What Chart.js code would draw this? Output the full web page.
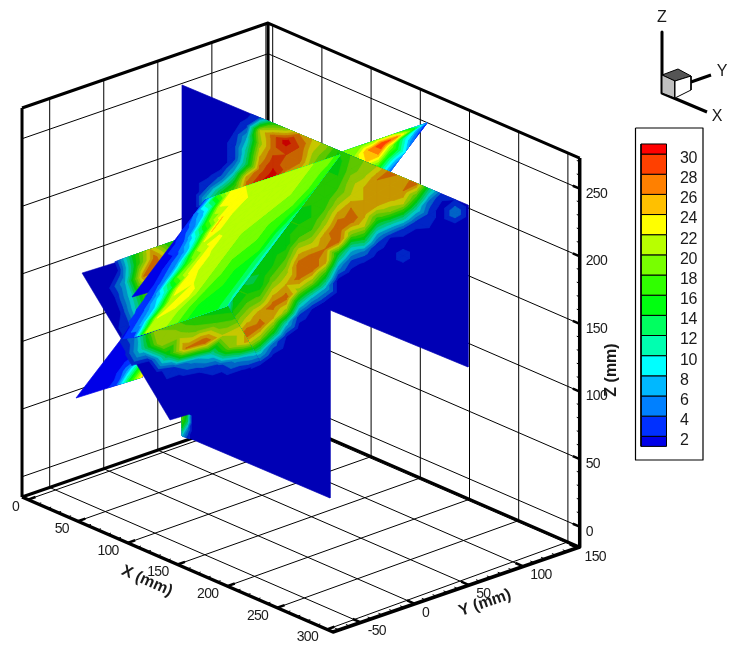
<!DOCTYPE html>
<html><head><meta charset="utf-8">
<style>html,body{margin:0;padding:0;background:#fff}canvas{display:block}</style>
<script src="https://cdn.jsdelivr.net/npm/chart.js@4"></script>
</head><body><canvas id="c" width="730" height="652"></canvas>
<script>
// ---- axis ticks and legend levels
const xTicks=[0,50,100,150,200,250,300];
const yTicks=[-50,0,50,100,150];
const zTicks=[0,50,100,150,200,250];
const legendLevels=[2,4,6,8,10,12,14,16,18,20,22,24,26,28,30];
const bandColors=[[0,0,232],[0,48,255],[0,128,255],[0,184,255],[0,255,255],[0,255,176],[0,255,96],[0,255,16],[48,255,0],[120,255,0],[184,255,0],[255,255,0],[255,192,0],[255,128,0],[255,64,0],[255,0,0]];
// ---- contour values: vertical plane, one list per column (missing = background level)
const verticalPlaneColumns=[
[1],[1],
[1,1,1,1,1,1,1,4,10],
[1,1,1,1,1,1,5,14,16],
[1,1,2,3,3,8,16,22,20,20,20,20,20,20,16,14,17,20,27,14,2,1],
[1,3,8,11,13,25,28,24,20,20,20,20,16,13,16,19,23,28,21,8,1],
[4,22,21,24,27,30,25,20,18,18,18,14,14,15,19,25,27,20,9,2,1],
[16,27,27,29,31,26,20,18,18,15,15,16,19,23,27,24,16,5,1],
[20,31,28,27,22,20,18,16,15,15,18,21,24,27,21,9,2,1],
[26,28,27,23,20,18,15,16,18,23,27,27,21,11,3,1],
[24,22,20,18,16,16,16,18,22,27,27,20,9,2,1],
[21,18,16,16,16,18,21,25,26,25,16,8,2,1],
[16,15,16,18,21,25,28,27,14,7,1],
[18,19,21,22,26,27,20,10,4,1],
[20,21,24,24,25,22,14,5,1],
[22,26,24,24,17,9,3,1],
[27,24,25,20,10,2,1],
[25,26,22,12,3,1,3,1],
[27,18,10,3,1],
[12,5,3,2,1],
[3,1],
[2,6,1],
[1]];
const verticalPlaneFoot=[[20,14,1],[18,12,1],[14,6,1],[8,3,1]];
// ---- contour values: bright slanted plane (rows from its top edge to its lower edge)
const slantPlaneRows=[
[3,17,23,22,21,21,21,20,20,19,17],
[4,9,22,23,22,21,21,20,20,19,16],
[2,6,18,24,21,21,21,20,20,19,16],
[1,4,11,24,21,20,20,20,19,18,15],
[1,2,7,21,23,20,20,19,18,17,13],
[1,2,6,17,23,21,20,19,18,16,11],
[1,1,5,18,23,21,20,18,17,16,11],
[1,1,4,11,24,22,20,18,16,15,11],
[1,1,3,8,20,24,20,17,16,15,11],
[1,1,2,7,22,21,19,16,15,15,11],
[1,1,1,2,20,21,19,16,15,15,12]];
// ---- contour values: tilted plane at lower left
const tiltPlaneRows=[
[1,1,1,14,24,16,16],
[1,1,2,16,27,18,18],
[1,1,8,26,26,20,20],
[1,1,10,22,22,20,20],
[1,2,12,22,20,20,20],
[1,3,14,20,20,18,18],
[1,6,20,19,16,15,14],
[1,10,22,21,19,18,17],
[1,2,14,26,28,22,23],
[1,1,4,7,10,20,25],
[1,1,1,2,3,7,9],
[1,1,1,1,1,1,1]];
// ---- contour values: the two far slivers
const farSliverRows=[
[18,18,20,20,14,4],
[20,26,30,26,16,3],
[24,26,20,12,8,3],
[16,14,14,8,5,3],
[4,5,8,4,3,2]];
const lowSliverRows=[
[1,1,1,3,14,24],
[1,1,1,5,14,24],
[1,1,1,3,10,14],
[1,1,1,1,1,1]];

// ---- view geometry: data coordinates of the hidden scales are view-plane units
const YMIN=-75.6,YMAX=152,ZLO=-15,ZTOP=272.7;
const T=Y=>(Y-YMIN)/(YMAX-YMIN);
const xLo=Y=>-6+1.3*T(Y), xHi=Y=>306+6*T(Y);
function proj(X,Y,Z){const t=T(Y);return {x:28+244.7*t+(0.9967-0.0127*t)*X,y:499.6-85.6*t+(0.4327-0.0064*t)*X-1.352*(Z-ZLO)};}

const layers=[];
function lines(segs,width,color){
  const data=[];segs.forEach(s=>{s.forEach(p=>data.push({x:p.x,y:p.y}));data.push({x:null,y:null});});
  layers.push({data,showLine:true,fill:false,borderColor:color||'#000',borderWidth:width,pointRadius:0,tension:0,spanGaps:false});
}
function polys(list,color,stroke,width){
  const data=[];list.forEach(pg=>{pg.forEach(p=>data.push({x:p.x,y:p.y}));data.push({x:pg[0].x,y:pg[0].y});data.push({x:null,y:null});});
  layers.push({data,showLine:true,fill:'shape',backgroundColor:color,borderColor:stroke||color,borderWidth:width===undefined?0.7:width,pointRadius:0,tension:0,spanGaps:false});
}
const shade=(c,f)=>`rgb(${Math.round(c[0]*f)},${Math.round(c[1]*f)},${Math.round(c[2]*f)})`;
function clipTri(tri,L){
  const out=[];
  for(let i=0;i<3;i++){const p=tri[i],q=tri[(i+1)%3];
    if(p.v>=L)out.push(p);
    if((p.v>=L)!==(q.v>=L)){const s=(L-p.v)/(q.v-p.v);out.push({x:p.x+s*(q.x-p.x),y:p.y+s*(q.y-p.y),v:L});}
  }
  return out;
}
function contour(nodes,f){
  legendLevels.forEach((L,li)=>{
    const list=[];
    for(let r=0;r<nodes.length-1;r++)for(let c=0;c<nodes[r].length-1;c++){
      const a=nodes[r][c],b=nodes[r][c+1],d=nodes[r+1][c],e=nodes[r+1][c+1];
      [[a,b,d],[b,e,d]].forEach(t=>{const g=clipTri(t,L);if(g.length>2)list.push(g);});
    }
    if(list.length)polys(list,shade(bandColors[li+1],f));
  });
}
const V=(x,y)=>({x,y});
function bilinearNodes(rows,p00,p10,p01,p11){
  return rows.map((row,r)=>row.map((v,c)=>{
    const s=c/(row.length-1),t=r/(rows.length-1);
    return {x:(1-t)*((1-s)*p00.x+s*p10.x)+t*((1-s)*p01.x+s*p11.x),y:(1-t)*((1-s)*p00.y+s*p10.y)+t*((1-s)*p01.y+s*p11.y),v};
  }));
}

// ---- box: walls, floor
const grid=[];
xTicks.forEach(X=>{grid.push([proj(X,YMIN,ZLO),proj(X,YMAX,ZLO)]);grid.push([proj(X,YMAX,ZLO),proj(X,YMAX,ZTOP)]);});
yTicks.forEach(Y=>{grid.push([proj(xLo(Y),Y,ZLO),proj(xHi(Y),Y,ZLO)]);grid.push([proj(xLo(Y),Y,ZLO),proj(xLo(Y),Y,ZTOP)]);});
zTicks.forEach(Z=>{grid.push([proj(xLo(YMIN),YMIN,Z),proj(xLo(YMAX),YMAX,Z),proj(xHi(YMAX),YMAX,Z)]);});
lines(grid,1);
const L0=[xLo(YMIN),YMIN],B0=[xLo(YMAX),YMAX],R0=[xHi(YMAX),YMAX],F0=[xHi(YMIN),YMIN];
lines([[proj(...L0,ZLO),proj(...B0,ZLO),proj(...R0,ZLO)],
       [proj(...L0,ZTOP),proj(...B0,ZTOP),proj(...R0,ZTOP)],
       [proj(...L0,ZLO),proj(...L0,ZTOP)],[proj(...B0,ZLO),proj(...B0,ZTOP)]],3);

// ---- faces, far to near
const c0=bandColors[0];
polys([[V(342,152),V(427,123),V(390,172)]],shade(c0,1));
contour(bilinearNodes(farSliverRows,V(342,152),V(427,123),V(390,172),V(427,123)),1);
polys([[V(76,398),V(122,338),V(143,377)]],shade(c0,1));
contour(lowSliverRows.map((row,r)=>row.map((v,c)=>({x:76+13.2*c+11*r,y:398-4.2*c-15*r,v}))),1);

polys([[V(182,85),V(468,205),V(468,367),V(330,310),V(330,498),V(182,435)]],shade(c0,0.78));
const maxLen=Math.max(...verticalPlaneColumns.map(c=>c.length));
const vNodes=[];
for(let j=0;j<maxLen;j++)vNodes.push(verticalPlaneColumns.map((col,i)=>({x:182+13*i,y:85+5.46*i+13*j,v:col[j]===undefined?1:col[j]})));
contour(vNodes,0.78);
contour(bilinearNodes(verticalPlaneFoot,V(182,412),V(192,416),V(182,436),V(192,440)),0.78);

// the tilted plane's base stays just inside its contour grid so no blue seam shows on the vertical plane
polys([[V(82,273),V(178,243),V(222,305),V(252,362),V(245,397.5),V(170,420)]],shade(c0,0.78),shade(c0,0.78),0.5);
const tiltV=[-5.7,-5,-4,-3,-2,-1,0,1,2,3,4,5];
contour(tiltPlaneRows.map((row,r)=>row.map((v,c)=>({x:135+18.4*(c-1)+7*tiltV[r],y:337-6.4*(c-1)+12*tiltV[r],v}))),0.78);

polys([[V(205,200),V(340,155),V(227,305),V(137,337),V(122,338),V(148,298),V(157,290),V(132,297)]],shade(c0,1));
contour(slantPlaneRows.map((row,r)=>row.map((v,c)=>({x:205+13.5*c-11.3*r,y:200-4.5*c+15.1*r,v}))),1);

// ---- front axes and ticks
lines([[proj(...L0,ZLO),proj(...F0,ZLO),proj(...R0,ZLO),proj(...R0,ZTOP)]],3.5);
const minor=[],major=[];
for(let X=0;X<=300;X+=10)(X%50?minor:major).push([proj(X,YMIN,ZLO),proj(X,YMIN+(X%50?3:7),ZLO)]);
for(let Y=-70;Y<=150;Y+=10){const h=xHi(Y);(Y%50?minor:major).push([proj(h,Y,ZLO),proj(h-(Y%50?4:8),Y,ZLO)]);}
for(let Z=0;Z<=270;Z+=10){const h=xHi(YMAX);(Z%50?minor:major).push([proj(h,YMAX,Z),proj(h-(Z%50?3:7),YMAX,Z)]);}
lines(minor,1);lines(major,2.5);

// ---- orientation cube
lines([[V(662,32),V(662,93)],[V(662,93),V(707,112)],[V(691,82),V(711,75)]],3);
polys([[V(662,75),V(678,69),V(691,76),V(675,81)]],'#555','#000',1);
polys([[V(662,75),V(675,81),V(675,98),V(662,93)]],'#c0c0c0','#000',1);
polys([[V(675,81),V(691,76),V(691,90),V(675,98)]],'#fff','#000',1);

// ---- contour legend
const LEG_Y=v=>436.3-(v-2)*10.08;
polys([[V(635.5,128),V(703,128),V(703,460),V(635.5,460)]],'#fff','#000',1.2);
[1,...legendLevels].forEach((lv,i)=>{
  const hi=i===0?2:(lv===30?31:lv+2);
  polys([[V(641,LEG_Y(lv)),V(666.5,LEG_Y(lv)),V(666.5,LEG_Y(hi)),V(641,LEG_Y(hi))]],shade(bandColors[i],1),'#000',1);
});

const textPlugin={id:'texts',afterDatasetsDraw(ch){
  const ctx=ch.ctx,xs=ch.scales.x,ys=ch.scales.y;
  const put=(s,px,py,font,align,rot,sp)=>{ctx.save();ctx.translate(px,py);if(rot)ctx.rotate(rot);ctx.font=font;ctx.letterSpacing=sp||'0px';ctx.textAlign=align;ctx.textBaseline='middle';ctx.fillStyle='#1a1a1a';ctx.fillText(s,0,0);ctx.restore();};
  const F='14px "Liberation Sans"',S='-0.7px';
  const at=p=>({x:xs.getPixelForValue(p.x),y:ys.getPixelForValue(p.y)});
  xTicks.forEach(X=>{const p=at(proj(X,YMIN,ZLO));put(String(X),p.x-9,p.y+8,F,'right',0,S);});
  yTicks.forEach(Y=>{const p=at(proj(xHi(Y),Y,ZLO));put(String(Y),p.x+7,p.y+9,F,'left',0,S);});
  zTicks.forEach(Z=>{const p=at(proj(xHi(YMAX),YMAX,Z));put(String(Z),p.x+6,p.y+5,F,'left',0,S);});
  const T2='bold 16px "Liberation Sans"';
  put('X (mm)',147,581,T2,'center',24*Math.PI/180);
  put('Y (mm)',485,603,T2,'center',-19*Math.PI/180);
  put('Z (mm)',612,370,T2,'center',-Math.PI/2);
  legendLevels.forEach(v=>put(String(v),680,LEG_Y(v)+4.5,'16px "Liberation Sans"','left',0,'-0.5px'));
  const A='16px "Liberation Sans"';
  put('Z',662,18,A,'center');put('Y',722,72,A,'center');put('X',717,117,A,'center');
}};

new Chart(document.getElementById('c'),{
  type:'scatter',
  data:{datasets:layers.slice().reverse()},
  options:{responsive:false,animation:false,events:[],devicePixelRatio:1,
    layout:{padding:0},
    scales:{x:{type:'linear',min:0,max:730,display:false},y:{type:'linear',min:0,max:652,reverse:true,display:false}},
    plugins:{legend:{display:false},tooltip:{enabled:false},filler:{propagate:false}},
    elements:{line:{borderJoinStyle:'round'}}
  },
  plugins:[textPlugin]
});
</script></body></html>
